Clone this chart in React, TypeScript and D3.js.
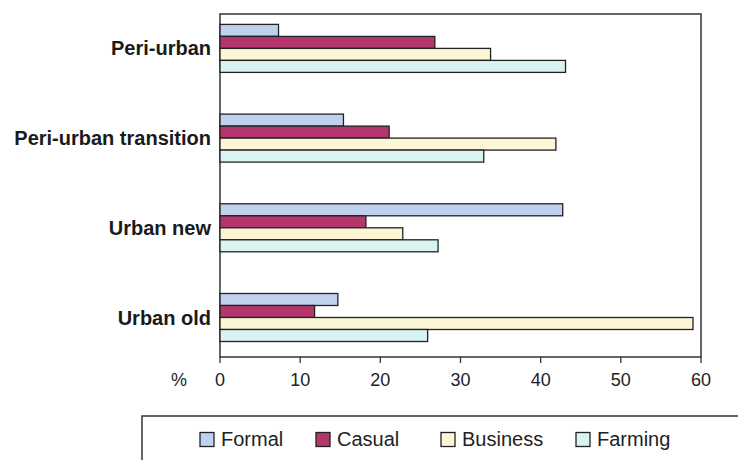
import React from "react";
import * as d3 from "d3";

const categories = ["Peri-urban", "Peri-urban transition", "Urban new", "Urban old"];
const seriesNames = ["Formal", "Casual", "Business", "Farming"];
const formal = [7.3, 15.4, 42.75, 14.7];
const casual = [26.8, 21.1, 18.2, 11.8];
const business = [33.75, 41.9, 22.8, 59.0];
const farming = [43.1, 32.9, 27.2, 25.9];
const xTicks = [0, 10, 20, 30, 40, 50, 60];
const colors = ["#c0d1f0", "#b5366c", "#fdf6d6", "#d9f2f2"];

const W = 738;
const H = 460;
const left = 220;
const right = 701;
const top = 14;
const bottom = 357;
const FONT = "'Liberation Sans', Arial, Helvetica, sans-serif";

export default function App() {
  const series = [formal, casual, business, farming];
  const x = d3.scaleLinear().domain([0, 60]).range([left, right]);
  const y = d3.scalePoint<string>().domain(categories).range([48.4, 317.5]);
  const barH = 12;
  const legendX = [200, 316, 441, 576];

  return (
    <svg
      width={W}
      height={H}
      style={{ position: "absolute", left: 0, top: 0, background: "#fff" }}
      fontFamily={FONT}
    >
      <rect x={0} y={0} width={W} height={H} fill="#fff" />
      {/* frame */}
      <rect
        x={left}
        y={top}
        width={right - left}
        height={bottom - top}
        fill="none"
        stroke="#333"
        strokeWidth={1.5}
      />
      {/* bars */}
      {categories.map((c, ci) =>
        series.map((s, si) => (
          <rect
            key={`${ci}-${si}`}
            x={x(0)}
            y={(y(c) as number) - 2 * barH + si * barH}
            width={x(s[ci]) - x(0)}
            height={barH}
            fill={colors[si]}
            stroke="#222"
            strokeWidth={1.3}
          />
        ))
      )}
      {/* category labels */}
      {categories.map((c) => (
        <text
          key={c}
          x={211}
          y={y(c) as number}
          textAnchor="end"
          dominantBaseline="central"
          fontWeight="bold"
          fontSize={20}
          fill="#1a1a1a"
        >
          {c}
        </text>
      ))}
      {/* x ticks */}
      {xTicks.map((t) => (
        <g key={t}>
          <line x1={x(t)} x2={x(t)} y1={bottom} y2={bottom + 6} stroke="#333" strokeWidth={1.3} />
          <text x={x(t)} y={386} textAnchor="middle" fontSize={18} fill="#222">
            {t}
          </text>
        </g>
      ))}
      <text x={179} y={386} textAnchor="middle" fontSize={18} fill="#222">
        %
      </text>
      {/* legend box */}
      <polyline
        points={`${W + 2},416 142,416 142,${H + 2}`}
        fill="none"
        stroke="#333"
        strokeWidth={1.5}
      />
      {seriesNames.map((n, i) => (
        <g key={n}>
          <rect
            x={legendX[i]}
            y={432.5}
            width={14}
            height={14}
            fill={colors[i]}
            stroke="#222"
            strokeWidth={1.3}
          />
          <text x={legendX[i] + 21} y={446} fontSize={20} fill="#222">
            {n}
          </text>
        </g>
      ))}
    </svg>
  );
}
